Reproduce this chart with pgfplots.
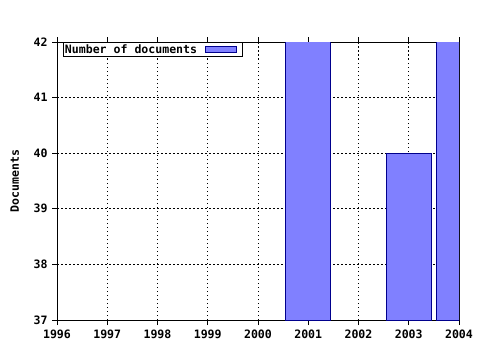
\documentclass[border=0pt]{standalone}
\usepackage{fontspec}
\setmainfont{DejaVu Sans Mono}
\usepackage{pgfplots}
\pgfplotsset{compat=1.18}
\definecolor{barfill}{RGB}{128,128,255}
\definecolor{baredge}{RGB}{0,0,140}
\begin{document}
\begin{tikzpicture}[x=1bp,y=1bp]
\path[use as bounding box] (0,0) rectangle (480,350);
\begin{axis}[
  at={(57bp,30bp)}, anchor=south west,
  scale only axis, width=402bp, height=278bp,
  xmin=1996, xmax=2004, ymin=37, ymax=42,
  xtick={1996,...,2004}, ytick={37,...,42},
  minor x tick num=3,
  tick align=outside, ytick pos=left, xtick pos=both,
  major tick length=5bp, minor tick length=3bp,
  every tick/.style={black, line width=0.8bp},
  axis line style={black, line width=0.8bp},
  grid=major,
  major grid style={black, line width=0.7bp, dash pattern=on 1.5bp off 2.5bp},
  /pgf/number format/assume math mode=true,
  /pgf/number format/1000 sep={},
  ticklabel style={font=\fontsize{11.6}{13}\selectfont\bfseries},
  xticklabel style={yshift=-1bp},
  yticklabel style={xshift=-1bp},
  ylabel={Documents},
  ylabel style={font=\fontsize{11.6}{13}\selectfont\bfseries, at={(axis description cs:-0.105,0.5)}, anchor=center},
  ybar, bar width=0.9,
  legend plot pos=right,
  legend style={at={(axis description cs:0.015,0.997)}, anchor=north west,
    draw=black, line width=1bp, inner sep=0.5bp, outer sep=0pt,
    font=\fontsize{11.6}{12}\selectfont\bfseries,
    column sep=6bp,
    nodes={inner sep=1.4bp}},
  legend image code/.code={\draw[#1, line width=1bp] (0bp,-3bp) rectangle (31bp,3bp);\path[draw=none,fill=none] (0bp,0bp) -- (37bp,0bp);},
]
\addplot[fill=barfill, draw=baredge, line width=1bp] coordinates {(2001,43) (2003,40) (2004,43)};
\addlegendentry{Number of documents}
\end{axis}
\end{tikzpicture}
\end{document}
